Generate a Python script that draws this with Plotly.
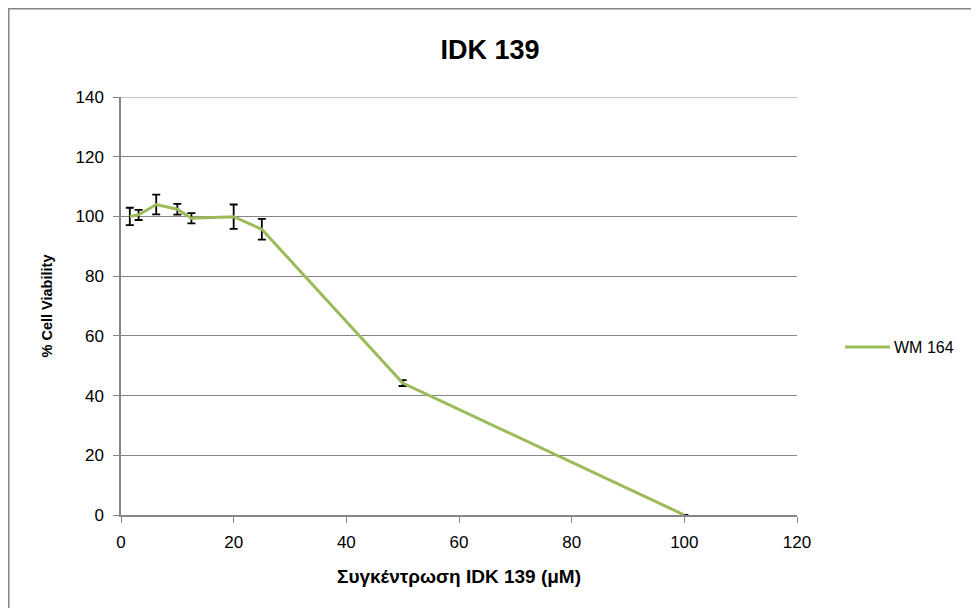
import plotly.graph_objects as go

series_name = "WM 164"
conc = [1.56, 3.125, 6.25, 10, 12.5, 20, 25, 50, 100]
viability = [100.0, 100.5, 104.0, 102.4, 99.4, 99.9, 95.7, 44.2, 0.0]
err = [2.9, 1.7, 3.3, 1.8, 1.7, 4.1, 3.5, 1.0, 0.0]
x_ticks = [0, 20, 40, 60, 80, 100, 120]
y_ticks = [0, 20, 40, 60, 80, 100, 120, 140]

# page is rendered with an 8px body margin, so the figure is 971x600
W, H = 971, 600
L, R, T, B = 113, 789, 89, 507
PW, PH = R - L, B - T
green = "#9BBB59"

fig = go.Figure()
fig.add_trace(go.Scatter(
    x=conc, y=viability, mode="lines", name=series_name,
    line=dict(color=green, width=3),
    error_y=dict(type="data", array=err, visible=True, color="black",
                 thickness=1.8, width=4),
    showlegend=False,
))

font = "Liberation Sans"
grey = "#868686"
leg_y = (B - 339) / PH
fig.update_layout(
    width=W, height=H,
    margin=dict(l=L, r=W - R, t=T, b=H - B),
    paper_bgcolor="white", plot_bgcolor="white",
    title=dict(text="<b>IDK 139</b>", x=482 / W, xanchor="center",
               y=1 - 42 / H, yanchor="middle",
               font=dict(family=font, size=27, color="black")),
    xaxis=dict(range=[0, 120], tickvals=x_ticks, showgrid=False,
               showline=True, linecolor=grey, linewidth=1.5,
               ticks="outside", tickcolor=grey, ticklen=6,
               ticklabelstandoff=5,
               tickfont=dict(family=font, size=17, color="black"),
               title=dict(text="<b>Συγκέντρωση IDK 139 (μM)</b>",
                          font=dict(family=font, size=19, color="black"),
                          standoff=19),
               zeroline=False),
    yaxis=dict(range=[0, 140], tickvals=y_ticks, showgrid=True,
               gridcolor=grey, gridwidth=1.2,
               showline=True, linecolor=grey, linewidth=1.5,
               ticks="outside", tickcolor=grey, ticklen=6,
               ticklabelstandoff=6,
               tickfont=dict(family=font, size=17, color="black"),
               title=dict(text="<b>% Cell Viability</b>",
                          font=dict(family=font, size=14.5, color="black"),
                          standoff=19),
               zeroline=False),
    showlegend=False,
    shapes=[
        dict(type="rect", xref="paper", yref="paper",
             x0=(0.75 - L) / PW, x1=(990 - L) / PW,
             y0=(B - 620) / PH, y1=(B - 0.75) / PH,
             line=dict(color=grey, width=1.5), layer="below"),
        dict(type="line", xref="paper", yref="y",
             x0=0, x1=1, y0=y_ticks[-1], y1=y_ticks[-1],
             line=dict(color=grey, width=1.2), layer="below"),
        dict(type="line", xref="paper", yref="paper",
             x0=(837 - L) / PW, x1=(882 - L) / PW, y0=leg_y, y1=leg_y,
             line=dict(color=green, width=3)),
    ],
    annotations=[dict(text=series_name, xref="paper", yref="paper",
                      x=(884 - L) / PW, y=leg_y, xanchor="left",
                      yanchor="middle", showarrow=False,
                      font=dict(family=font, size=16, color="black"))],
)

fig.write_html("out.html")
